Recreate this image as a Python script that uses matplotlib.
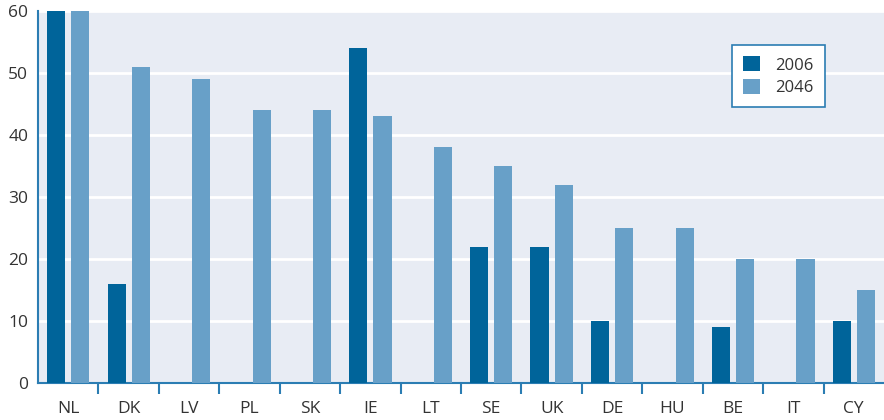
import numpy as np
import matplotlib.pyplot as plt

countries = ["NL", "DK", "LV", "PL", "SK", "IE", "LT", "SE", "UK", "DE", "HU", "BE", "IT", "CY"]
vals_2006 = [60, 16, 0, 0, 0, 54, 0, 22, 22, 10, 0, 9, 0, 10]
vals_2046 = [60, 51, 49, 44, 44, 43, 38, 35, 32, 25, 25, 20, 20, 15]
yticks = [0, 10, 20, 30, 40, 50, 60]

dark = "#00649a"
light = "#68a0c8"
axis_col = "#2b7db3"
text_col = "#333333"

plt.rcParams['font.family'] = ['Open Sans', 'DejaVu Sans']

fig = plt.figure(figsize=(8.84, 4.2), dpi=100)
ax = fig.add_axes([0.043, 0.088, 0.957, 0.886])
ax.set_facecolor("#e8ecf4")

x = np.arange(len(countries))
w = 0.3
ax.bar(x - 0.2, vals_2006, w, color=dark, label="2006", zorder=3)
ax.bar(x + 0.2, vals_2046, w, color=light, label="2046", zorder=3)

ax.set_xlim(-0.5, len(countries) - 0.5)
ax.set_ylim(0, 60)
ax.set_yticks(yticks)
ax.yaxis.grid(True, color="white", linewidth=2, zorder=1)
ax.set_axisbelow(True)

ax.set_xticks(x)
ax.set_xticklabels(countries)
ax.set_xticks(np.arange(0.5, len(countries) - 1, 1), minor=True)
ax.tick_params(axis="x", which="major", length=0, pad=13, labelsize=12.5, labelcolor=text_col)
ax.tick_params(axis="x", which="minor", length=8, width=1.5, color=axis_col)
ax.tick_params(axis="y", length=0, pad=7, labelsize=12.5, labelcolor=text_col)

for s in ["top", "right"]:
    ax.spines[s].set_visible(False)
for s in ["left", "bottom"]:
    ax.spines[s].set_color(axis_col)
    ax.spines[s].set_linewidth(1.5)

leg = ax.legend(loc="upper left", bbox_to_anchor=(0.82, 0.909), borderaxespad=0,
                fancybox=False, framealpha=1, edgecolor=axis_col, fontsize=12,
                handlelength=1.0, handleheight=1.0, borderpad=0.7, labelspacing=0.3,
                handletextpad=0.9)
leg.get_frame().set_linewidth(1.2)
for t in leg.get_texts():
    t.set_color(text_col)

fig.savefig("out.png", dpi=100)
